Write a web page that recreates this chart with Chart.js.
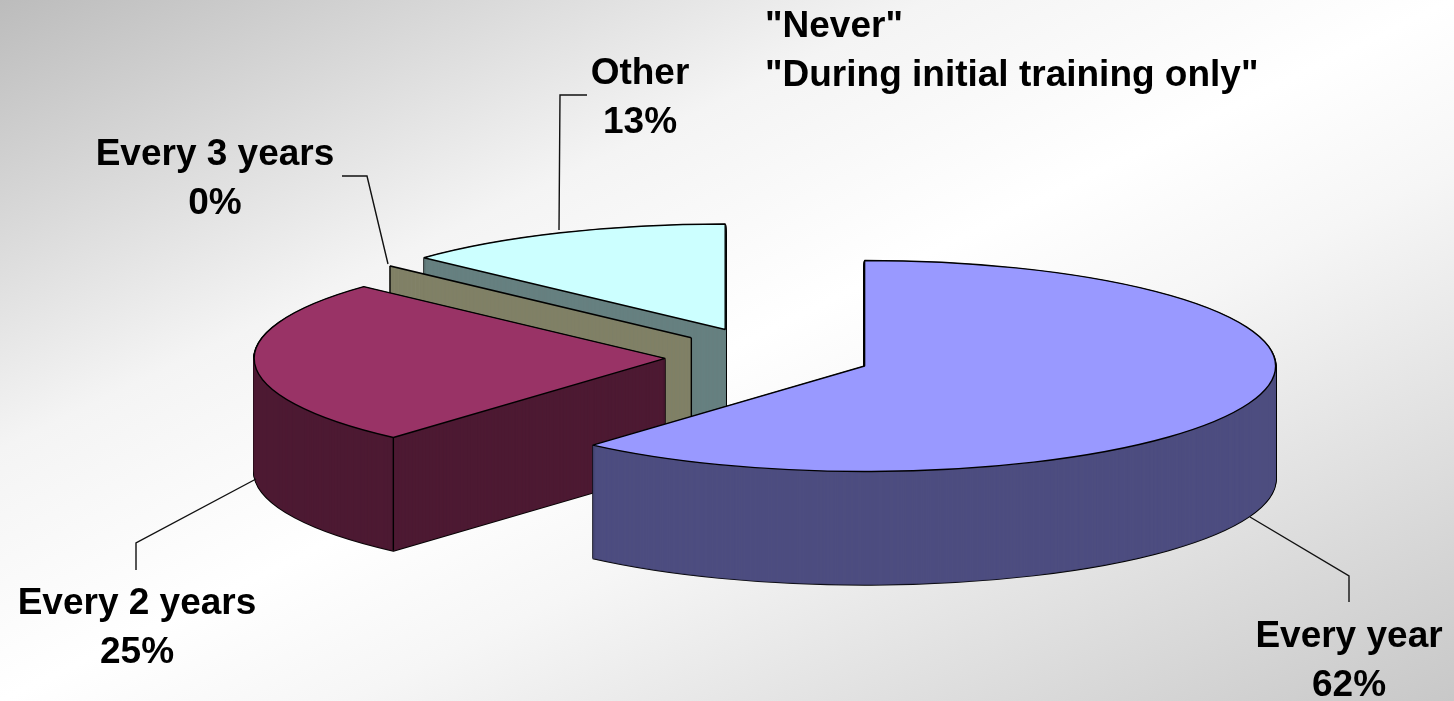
<!DOCTYPE html>
<html>
<head>
<meta charset="utf-8">
<style>
  html, body { margin: 0; padding: 0; width: 1454px; height: 701px; overflow: hidden; }
  body { background: linear-gradient(to bottom right, #bcbcbc 0%, #f4f4f4 32%, #ffffff 50%, #f6f6f6 62%, #c8c8c8 100%); }
  canvas { display: block; }
</style>
<script src="https://cdn.jsdelivr.net/npm/chart.js@4/dist/chart.umd.min.js"></script>
</head>
<body>
<canvas id="pie" width="1454" height="701"></canvas>
<script>
// --- data ---
const categories = ['Every year', 'Every 2 years', 'Every 3 years', 'Other'];
const shares = [61.5, 25.4, 0, 13.1];            // printed rounded on the labels
const notes = ['"Never"', '"During initial training only"'];

// --- look ---
const topColors = ['#9999ff', '#993366', '#999966', '#ccffff'];
const wallColors = ['#4d4d80', '#4d1a33', '#808066', '#668080'];
const explode = [99, 107, 110, 117];  // px along each slice's middle angle
const squash = 105.5 / 411;           // tilt of the pie
const depth = 113;
const labelFont = 'bold 37px "Liberation Sans"';
const labelSpots = [[1349, 647], [137, 614], [215, 165], [640, 84]];
const leaders = [
  [[1250, 517], [1349, 576], [1349, 602]],
  [[256, 479], [136, 543], [136, 570]],
  [[388, 264], [367, 176], [342, 176]],
  [[559, 230], [560, 95], [587, 95]],
];

// arc copy with other options, zero slices get a hair of sweep so the wall shows
function arcCopy(arc, opts) {
  const c = Object.create(arc);
  c.options = { ...arc.options, ...opts };
  if (arc.circumference === 0) {
    c.circumference = 0.002;
    c.endAngle = arc.startAngle + 0.002;
  }
  return c;
}

function place(ctx, arc, i, dy) {
  const half = (arc.startAngle + arc.endAngle) / 2;
  ctx.translate(arc.x, arc.y + dy);
  ctx.scale(1, squash);
  ctx.translate(-arc.x, -arc.y);
  ctx.translate(Math.cos(half) * explode[i], Math.sin(half) * explode[i]);
}

// strokes go out in plain pixels, otherwise the squash thins the lines
function withEvenStroke(ctx, fn) {
  const stroke = ctx.stroke;
  ctx.stroke = function () {
    ctx.save();
    ctx.setTransform(1, 0, 0, 1, 0, 0);
    stroke.call(ctx);
    ctx.restore();
  };
  fn();
  delete ctx.stroke;
}

function drawSlice(ctx, arc, i) {
  const flat = arc.circumference === 0;
  const outline = arcCopy(arc, { backgroundColor: wallColors[i], borderColor: '#000', borderWidth: 2.4 });
  const wall = arcCopy(arc, { backgroundColor: wallColors[i], borderColor: wallColors[i], borderWidth: flat ? 1.6 : 0.6 });
  const top = arcCopy(arc, { backgroundColor: topColors[i], borderColor: '#000', borderWidth: 1.4 });
  if (!flat) {
    for (let dy = depth; dy > 0; dy--) {
      ctx.save();
      place(ctx, arc, i, dy);
      outline.draw(ctx);
      ctx.restore();
    }
  }
  for (let dy = depth; dy > 0; dy--) {
    ctx.save();
    place(ctx, arc, i, dy);
    wall.draw(ctx);
    ctx.restore();
  }
  ctx.save();
  place(ctx, arc, i, 0);
  top.draw(ctx);
  ctx.restore();
}

// vertical wall corner, r is the distance from the slice's apex
function drawRidge(ctx, arc, i, r) {
  const half = (arc.startAngle + arc.endAngle) / 2;
  const x = arc.x + Math.cos(half) * explode[i] + Math.cos(arc.startAngle) * r;
  const y = arc.y + (Math.sin(half) * explode[i] + Math.sin(arc.startAngle) * r) * squash;
  ctx.beginPath();
  ctx.moveTo(x, y);
  ctx.lineTo(x, y + depth);
  ctx.strokeStyle = '#000';
  ctx.lineWidth = 1.4;
  ctx.stroke();
}

const pie3d = {
  id: 'pie3d',
  beforeDatasetsDraw(chart) {
    const ctx = chart.ctx;
    const arcs = chart.getDatasetMeta(0).data;
    withEvenStroke(ctx, () => {
      // back to front
      drawSlice(ctx, arcs[3], 3);
      drawSlice(ctx, arcs[2], 2);
      drawRidge(ctx, arcs[2], 2, 0);
      drawRidge(ctx, arcs[2], 2, arcs[2].outerRadius);
      drawSlice(ctx, arcs[1], 1);
      drawRidge(ctx, arcs[1], 1, arcs[1].outerRadius);
      drawSlice(ctx, arcs[0], 0);
    });
    return false;
  },
  afterDraw(chart) {
    const ctx = chart.ctx;
    ctx.save();
    ctx.strokeStyle = '#111';
    ctx.lineWidth = 1.4;
    for (const path of leaders) {
      ctx.beginPath();
      path.forEach((p, k) => k ? ctx.lineTo(p[0], p[1]) : ctx.moveTo(p[0], p[1]));
      ctx.stroke();
    }
    ctx.fillStyle = '#000';
    ctx.font = labelFont;
    ctx.textAlign = 'center';
    categories.forEach((name, i) => {
      const [x, y] = labelSpots[i];
      ctx.fillText(name, x, y);
      ctx.fillText(Math.round(shares[i]) + '%', x, y + 49);
    });
    ctx.textAlign = 'left';
    notes.forEach((t, i) => ctx.fillText(t, 765, 37 + i * 49));
    ctx.restore();
  },
};

new Chart(document.getElementById('pie'), {
  type: 'pie',
  data: {
    labels: categories,
    datasets: [{ data: shares, backgroundColor: topColors, borderWidth: 0 }],
  },
  options: {
    responsive: false,
    animation: false,
    radius: 411,
    layout: { padding: { left: 90, top: 13 } },
    plugins: { legend: { display: false }, tooltip: { enabled: false } },
  },
  plugins: [pie3d],
});
</script>
</body>
</html>
